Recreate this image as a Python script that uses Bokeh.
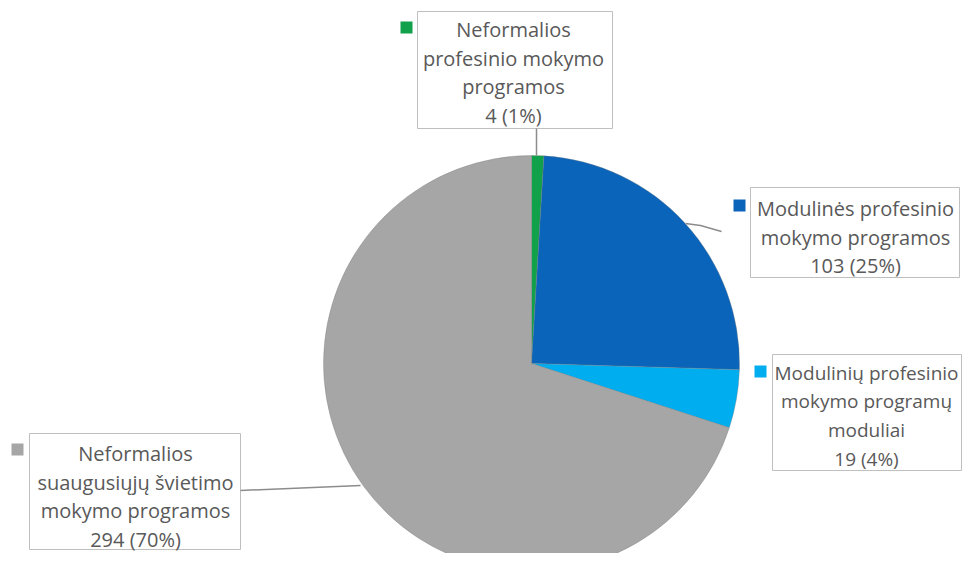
import math
from bokeh.plotting import figure
from bokeh.models import Range1d, ColumnDataSource
from bokeh.core.properties import value
from bokeh.embed import file_html
from bokeh.resources import INLINE

# ---- data ----
categories = [
    "Neformalios profesinio mokymo programos",
    "Modulinės profesinio mokymo programos",
    "Modulinių profesinio mokymo programų moduliai",
    "Neformalios suaugusiųjų švietimo mokymo programos",
]
label_lines = [
    ["Neformalios", "profesinio mokymo", "programos"],
    ["Modulinės profesinio", "mokymo programos"],
    ["Modulinių profesinio", "mokymo programų", "moduliai"],
    ["Neformalios", "suaugusiųjų švietimo", "mokymo programos"],
]
values = [4, 103, 19, 294]
percents = [1, 25, 4, 70]
colors = ["#12a14b", "#0a64b9", "#00adef", "#a6a6a6"]

W, H = 963, 553
p = figure(width=W, height=H, output_backend="svg", toolbar_location=None,
           x_range=Range1d(-8, W - 8), y_range=Range1d(8, H + 8), min_border=0)
p.axis.visible = False
p.grid.visible = False
p.outline_line_color = None
p.background_fill_color = "white"
p.border_fill_color = "white"

# pie
cx, cy, r = 523, 198, 208
total = sum(values)
starts, ends = [], []
cum = 0
for v in values:
    starts.append(math.pi / 2 - 2 * math.pi * cum / total)
    cum += v
    ends.append(math.pi / 2 - 2 * math.pi * cum / total)
src = ColumnDataSource(dict(start=starts, end=ends, color=colors))
p.wedge(x=cx, y=cy, radius=r, start_angle="start", end_angle="end",
        direction="clock", fill_color="color", line_color="#7a7a7a",
        line_alpha=0.35, line_width=1, source=src)

# label layout (box: left, right, top, bottom; text center x; first line y; square; font)
boxes = [
    dict(l=409, r=604, t=550, b=433, tx=505, ty=532, sq=(398, 534), fs="20px"),
    dict(l=742, r=951, t=374, b=284, tx=847, ty=353, sq=(731, 356), fs="20px"),
    dict(l=764, r=953, t=207, b=91, tx=858, ty=189, sq=(752, 190), fs="19px"),
    dict(l=21, r=232, t=128, b=12, tx=127, ty=108, sq=(9, 112), fs="20px"),
]
leaders = [
    ([528, 528], [433, 406]),
    ([677, 692, 713], [338, 336, 330]),
    None,
    ([232, 352], [71, 76]),
]
line_gap = 28.7
for i, b in enumerate(boxes):
    p.quad(left=b["l"], right=b["r"], top=b["t"], bottom=b["b"],
           fill_color="white", line_color="#bfbfbf", line_width=1)
    lines = label_lines[i] + [f"{values[i]} ({percents[i]}%)"]
    ys = [b["ty"] - k * line_gap for k in range(len(lines))]
    p.text(x=[b["tx"]] * len(lines), y=ys, text=lines,
           text_align="center", text_baseline="middle",
           text_font=value("Open Sans"), text_font_size=b["fs"],
           text_color="#595959")
    p.scatter(x=[b["sq"][0]], y=[b["sq"][1]], marker="square", size=12,
              fill_color=colors[i], line_color=None)
    if leaders[i]:
        p.line(x=leaders[i][0], y=leaders[i][1], line_color="#8c8c8c", line_width=1.5)

open("out.html", "w").write(file_html(p, INLINE))
